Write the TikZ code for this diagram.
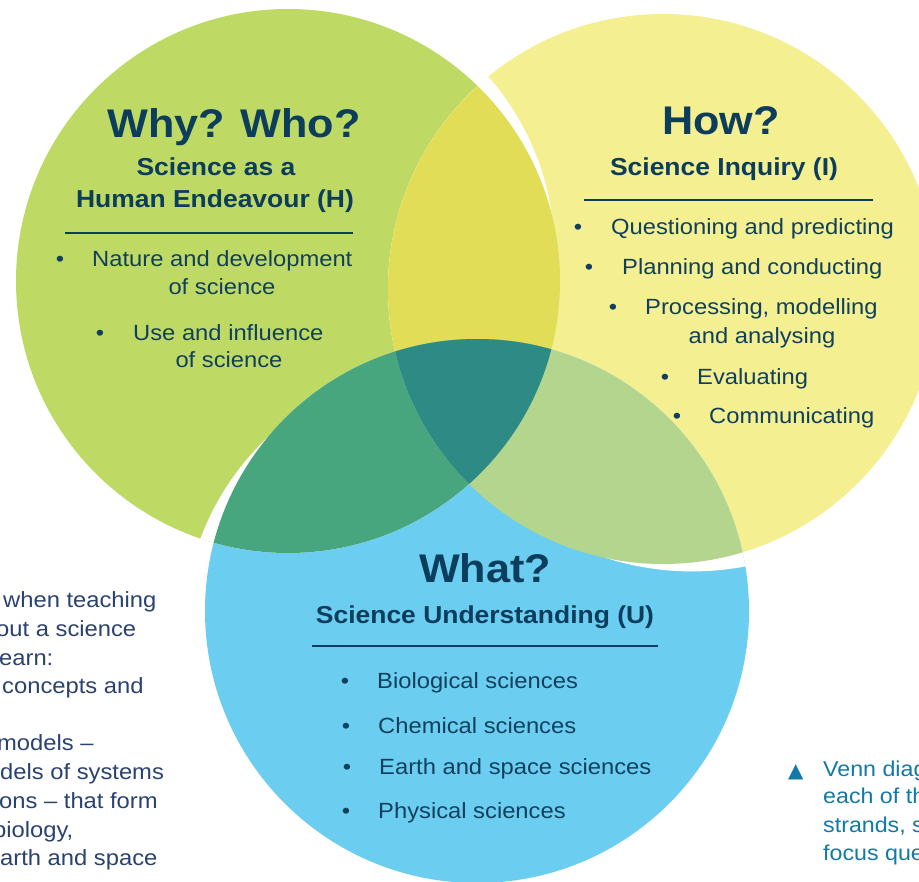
\documentclass[tikz,border=0pt]{standalone}
\usepackage{fontspec}
\setmainfont{Liberation Sans}[FakeStretch=1.08]
\newfontfamily\symbolfont{DejaVu Sans}

\definecolor{greenFill}{RGB}{190,217,100}
\definecolor{yellowFill}{RGB}{244,239,145}
\definecolor{blueFill}{RGB}{107,206,240}
\definecolor{gyFill}{RGB}{225,221,86}
\definecolor{gbFill}{RGB}{72,166,127}
\definecolor{ybFill}{RGB}{179,213,141}
\definecolor{gybFill}{RGB}{46,138,133}
\definecolor{headC}{RGB}{12,61,92}
\definecolor{bodyC}{RGB}{17,64,94}
\definecolor{sideC}{RGB}{42,66,112}
\definecolor{captC}{RGB}{19,121,168}

\begin{document}
\begin{tikzpicture}[x=1pt, y=-1pt,
  title/.style={font=\fontsize{40}{46}\selectfont\bfseries, text=headC, inner sep=0pt, anchor=base},
  head/.style={font=\fontsize{24.5}{29}\selectfont\bfseries, text=headC, inner sep=0pt, anchor=base},
  item/.style={font=\fontsize{22}{26}\selectfont, text=bodyC, inner sep=0pt, anchor=base west},
  itemc/.style={item, anchor=base},
  dot/.style={item, anchor=base},
  rulebar/.style={draw=headC, line width=2.5pt},
  aside/.style={font=\fontsize{22}{26}\selectfont, text=sideC, inner sep=0pt, anchor=base west},
  capt/.style={font=\fontsize{21.5}{26}\selectfont, text=captC, inner sep=0pt, anchor=base west}]

  \useasboundingbox (0,0) rectangle (919,882);
  \clip (0,0) rectangle (919,882);
  \fill[white] (0,0) rectangle (919,882);

  % Circle centres
  \coordinate (gC) at (288,281);
  \coordinate (yC) at (663,289);
  \coordinate (bC) at (477,611);

  % Circles
  \fill[greenFill] (gC) circle[radius=272pt];
  \fill[yellowFill] (yC) circle[radius=275pt];
  \fill[blueFill] (bC) circle[radius=272pt];

  % White gaps
  \begin{scope}
    \clip (yC) circle[radius=275pt];
    \fill[white] (288,252.4) circle[radius=266.4pt];
  \end{scope}
  \begin{scope}
    \clip (gC) circle[radius=272pt];
    \fill[white] (451.6,632.3) circle[radius=268pt];
  \end{scope}
  \begin{scope}
    \clip (bC) circle[radius=272pt];
    \fill[white] (692.3,289) circle[radius=282.4pt];
  \end{scope}

  % Overlaps
  \begin{scope}
    \clip (gC) circle[radius=272pt];
    \fill[gyFill] (yC) circle[radius=275pt];
  \end{scope}
  \begin{scope}
    \clip (gC) circle[radius=272pt];
    \fill[gbFill] (bC) circle[radius=272pt];
  \end{scope}
  \begin{scope}
    \clip (yC) circle[radius=275pt];
    \fill[ybFill] (bC) circle[radius=272pt];
  \end{scope}
  \begin{scope}
    \clip (gC) circle[radius=272pt];
    \clip (yC) circle[radius=275pt];
    \fill[gybFill] (bC) circle[radius=272pt];
  \end{scope}

  % Why? Who? (H)
  \node[title] (whyT) at (234,138) {Why? Who?};
  \node[head] (hHeadA) at (216,176) {Science as a};
  \node[head] (hHeadB) at (215,208) {Human Endeavour (H)};
  \draw[rulebar] (65,233) -- (353,233);
  \node[dot] (hDotA) at (60,267) {\textbullet};
  \node[item] (hItemA) at (92,267) {Nature and development};
  \node[itemc] (hItemAb) at (222,295) {of science};
  \node[dot] (hDotB) at (100,341) {\textbullet};
  \node[item] (hItemB) at (133,341) {Use and influence};
  \node[itemc] (hItemBb) at (229,368) {of science};

  % How? (I)
  \node[title] (howT) at (721,135) {How?};
  \node[head] (iHead) at (724,176) {Science Inquiry (I)};
  \draw[rulebar] (584,200) -- (873,200);
  \node[dot] (iDotA) at (578,235) {\textbullet};
  \node[item] (iItemA) at (611,235) {Questioning and predicting};
  \node[dot] (iDotB) at (589,275) {\textbullet};
  \node[item] (iItemB) at (622,275) {Planning and conducting};
  \node[dot] (iDotC) at (613,315) {\textbullet};
  \node[item] (iItemC) at (645,315) {Processing, modelling};
  \node[itemc] (iItemCb) at (762,344) {and analysing};
  \node[dot] (iDotD) at (665,385) {\textbullet};
  \node[item] (iItemD) at (697,385) {Evaluating};
  \node[dot] (iDotE) at (677,424) {\textbullet};
  \node[item] (iItemE) at (709,424) {Communicating};

  % What? (U)
  \node[title] (whatT) at (485,582) {What?};
  \node[head] (uHead) at (485,623) {Science Understanding (U)};
  \draw[rulebar] (312,646) -- (658,646);
  \node[dot] (uDotA) at (345,688) {\textbullet};
  \node[item] (uItemA) at (377,688) {Biological sciences};
  \node[dot] (uDotB) at (346,733) {\textbullet};
  \node[item] (uItemB) at (378,733) {Chemical sciences};
  \node[dot] (uDotC) at (347,774) {\textbullet};
  \node[item] (uItemC) at (379,774) {Earth and space sciences};
  \node[dot] (uDotD) at (346,818) {\textbullet};
  \node[item] (uItemD) at (378,818) {Physical sciences};

  % Side text (cut at the left edge)
  \node[aside] (sideA) at (3,607) {when teaching};
  \node[aside] (sideB) at (-4,636) {out a science};
  \node[aside] (sideC) at (-1,665) {earn:};
  \node[aside] (sideD) at (2,693) {concepts and};
  \node[aside] (sideE) at (-3,750) {models --};
  \node[aside] (sideF) at (0,779) {dels of systems};
  \node[aside] (sideG) at (-1,808) {ons -- that form};
  \node[aside] (sideH) at (-7,837) {biology,};
  \node[aside] (sideI) at (0,865) {arth and space};

  % Caption (cut at the right edge)
  \node[capt, font=\fontsize{20}{23}\selectfont\symbolfont] (captMark) at (788,777) {▲};
  \node[capt] (captA) at (823,776) {Venn diag};
  \node[capt] (captB) at (823,803) {each of th};
  \node[capt] (captC) at (823,832) {strands, s};
  \node[capt] (captD) at (823,860) {focus que};

\end{tikzpicture}
\end{document}
